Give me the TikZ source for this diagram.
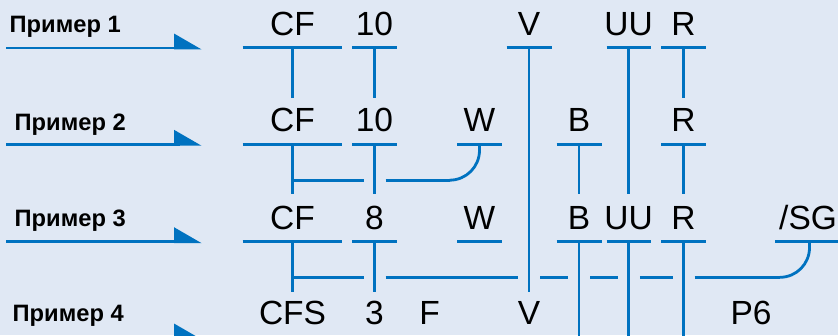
\documentclass[tikz,border=0pt]{standalone}
\usepackage{fontspec}
\setmainfont{Liberation Sans}
\definecolor{bgc}{RGB}{224,232,244}
\definecolor{lb}{RGB}{0,114,192}
\newcommand\tbar[4]{% name, x, y, half width
  \coordinate (#1) at (#2,#3);
  \draw[ln] ([xshift=-#4pt]#1) -- ([xshift=#4pt]#1);}
\begin{document}
\begin{tikzpicture}[x=1pt,y=-1pt,
  ln/.style={draw=lb,line width=2.8pt},
  lbl/.style={font=\fontsize{33.5}{36}\selectfont,inner sep=0pt,anchor=base,text=black},
  rlbl/.style={font=\bfseries\fontsize{23.7}{26}\selectfont,inner sep=0pt,anchor=base west,text=black},
  tri/.style={fill=lb,draw=none}]
\clip (0,0) rectangle (838,335);
\fill[bgc] (0,0) rectangle (838,335);

% row labels and arrows
\node[rlbl] (p1) at (9.5,32.3) {Пример 1};
\node[rlbl] (p2) at (14.5,130) {Пример 2};
\node[rlbl] (p3) at (14.5,226.7) {Пример 3};
\node[rlbl] (p4) at (12.5,321.7) {Пример 4};
\foreach \yy/\nn in {48/1,144.3/2,241.7/3,338/4}{
  \coordinate (as\nn) at (6,\yy);
  \coordinate (ae\nn) at (180,\yy);
  \draw[ln] (as\nn) -- (ae\nn);
  \fill[lb] (174,\yy-14.5) -- (201.5,\yy+1.4) -- (174,\yy+1.4) -- cycle;
}

% row 1
\node[lbl] (c1) at (292.5,35.7) {CF};
\node[lbl] (t1) at (374.5,35.7) {10};
\node[lbl] (v1) at (529,35.7) {V};
\node[lbl] (u1) at (628.5,35.7) {UU};
\node[lbl] (r1) at (683.5,35.7) {R};
\tbar{c1b}{292.5}{47.7}{49.8}
\tbar{t1b}{374.5}{47.7}{22.4}
\tbar{v1b}{529}{47.7}{22.5}
\tbar{u1b}{628.8}{47.7}{22.2}
\tbar{r1b}{683.6}{47.7}{22.4}

% row 2
\node[lbl] (c2) at (292.5,131.7) {CF};
\node[lbl] (t2) at (374.5,131.7) {10};
\node[lbl] (w2) at (479.5,131.7) {W};
\node[lbl] (b2) at (579,131.7) {B};
\node[lbl] (r2) at (683.5,131.7) {R};
\tbar{c2b}{292.5}{144.3}{49.8}
\tbar{t2b}{374.5}{144.3}{22.4}
\tbar{w2b}{479.5}{144.3}{22.2}
\tbar{b2b}{579}{144.3}{22.5}
\tbar{r2b}{683.6}{144.3}{22.4}

% row 3
\node[lbl] (c3) at (292.5,229.3) {CF};
\node[lbl] (t3) at (374.5,229.3) {8};
\node[lbl] (w3) at (479.5,229.3) {W};
\node[lbl] (b3) at (579,229.3) {B};
\node[lbl] (u3) at (628.5,229.3) {UU};
\node[lbl] (r3) at (683.5,229.3) {R};
\node[lbl,anchor=base west] (s3) at (779,229.3) {/SG};
\tbar{c3b}{292.5}{241.7}{49.8}
\tbar{t3b}{374.5}{241.7}{22.4}
\tbar{w3b}{479.5}{241.7}{22.2}
\tbar{b3b}{579}{241.7}{22.5}
\tbar{u3b}{628.8}{241.7}{22.2}
\tbar{r3b}{683.6}{241.7}{22.4}
\coordinate (s3b) at (809.5,241.7);
\draw[ln] (775.3,241.7) -- (850,241.7);

% row 4
\node[lbl] (c4) at (292.5,324.3) {CFS};
\node[lbl] (t4) at (374.5,324.3) {3};
\node[lbl] (f4) at (429.7,324.3) {F};
\node[lbl] (v4) at (529,324.3) {V};
\node[lbl] (p64) at (751,324.3) {P6};

% stem end points
\coordinate (c1e) at (292.5,97.7);
\coordinate (t1e) at (374.5,97.7);
\coordinate (r1e) at (683.6,97.7);
\coordinate (v1e) at (529,291.7);
\coordinate (u1e) at (628.8,194);
\coordinate (c2e) at (292.5,194);
\coordinate (t2e) at (374.5,194);
\coordinate (b2e) at (579,194);
\coordinate (r2e) at (683.6,194);
\coordinate (c3e) at (292.5,291.7);
\coordinate (t3e) at (374.5,291.7);
\coordinate (b3e) at (579,345);
\coordinate (u3e) at (628.8,345);
\coordinate (r3e) at (683.6,345);

\foreach \a/\b in {c1b/c1e,t1b/t1e,r1b/r1e,v1b/v1e,u1b/u1e,
                   c2b/c2e,t2b/t2e,b2b/b2e,r2b/r2e,
                   c3b/c3e,t3b/t3e,b3b/b3e,u3b/u3e,r3b/r3e}
  \draw[ln] (\a) -- (\b);

% row 2 link: W to CF, passing behind the 10 stem
\coordinate (h2c) at (292.5,180.2);
\coordinate (h2a) at (363.5,180.2);
\coordinate (h2b) at (385.5,180.2);
\coordinate (h2w) at (449.5,180.2);
\draw[ln] (h2c) -- (h2a);
\draw[ln] (h2b) -- (h2w);
\draw[ln] (w2b) -- ++(0,6) .. controls +(0,16.6) and +(16.6,0) .. (h2w);

% row 3 link: /SG to CF, passing behind stems
\coordinate (h3c) at (292.5,277.3);
\coordinate (h3s) at (780,277.3);
\draw[ln] (h3c) -- (363.5,277.3);
\foreach \xa/\xb in {385.5/518,540/568,590/617.8,639.8/672.6}
  \draw[ln] (\xa,277.3) -- (\xb,277.3);
\draw[ln] (694.6,277.3) -- (h3s);
\draw[ln] (s3b) -- ++(0,6) .. controls +(0,16.3) and +(16.3,0) .. (h3s);
\end{tikzpicture}
\end{document}
